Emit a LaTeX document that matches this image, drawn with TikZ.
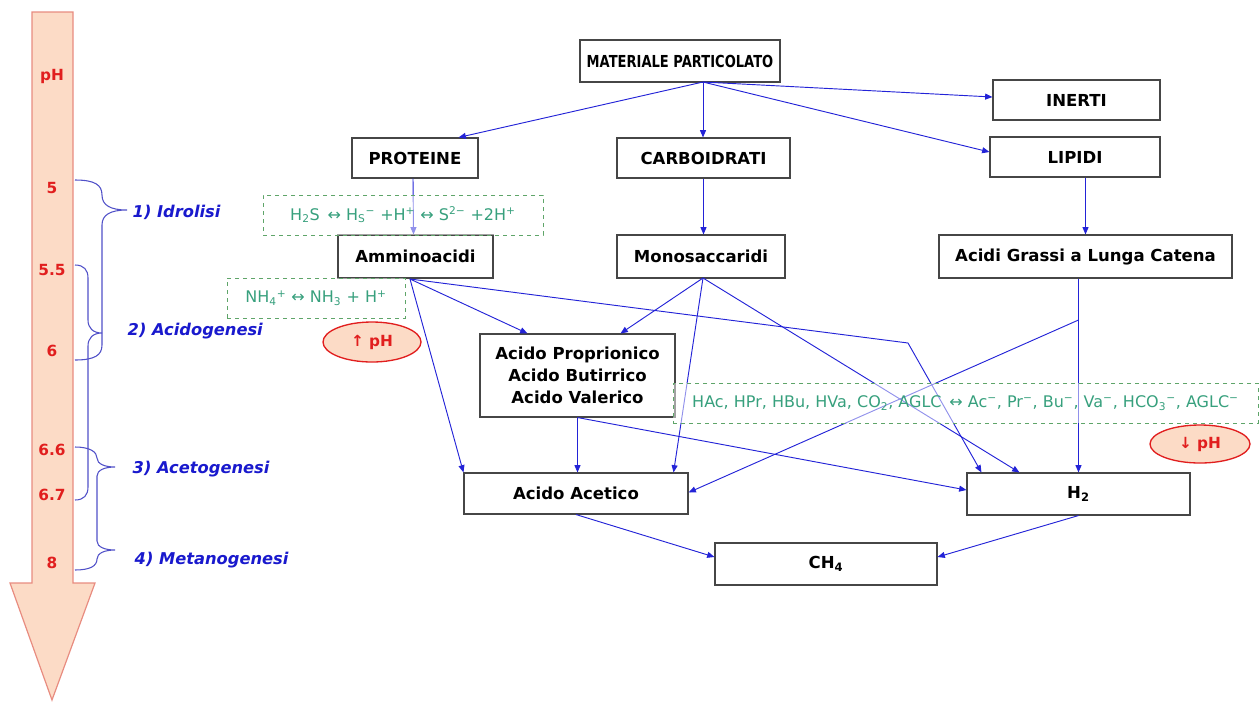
\documentclass[tikz,border=0pt]{standalone}
\usepackage{fontspec}
\setmainfont{DejaVu Sans}
\usetikzlibrary{arrows.meta,shapes.geometric,calc}

\definecolor{arrowblue}{RGB}{35,35,215}
\definecolor{bracecol}{RGB}{80,80,200}
\definecolor{labelblue}{RGB}{25,25,205}
\definecolor{phred}{RGB}{225,30,30}
\definecolor{peach}{RGB}{252,219,198}
\definecolor{peachedge}{RGB}{232,140,128}
\definecolor{greentext}{RGB}{55,160,125}
\definecolor{greendash}{RGB}{95,165,105}
\definecolor{boxedge}{RGB}{70,70,70}

\tikzset{
  box/.style 2 args={draw=boxedge, line width=0.8pt, fill=white, rectangle,
    minimum width=#1*0.75pt, minimum height=#2*0.75pt, inner sep=0pt,
    font=\fontsize{12.4}{14}\selectfont\bfseries, align=center},
  eqbox/.style 2 args={draw=greendash, dashed, line width=0.7pt,
    fill=white, fill opacity=0.5, text opacity=1, rectangle,
    minimum width=#1*0.75pt, minimum height=#2*0.75pt, inner sep=0pt,
    text=greentext, font=\fontsize{12}{14}\selectfont},
  phtag/.style 2 args={ellipse, draw=phred, line width=1pt, fill=peach,
    minimum width=#1*0.75pt, minimum height=#2*0.75pt, inner sep=0pt,
    text=phred, font=\fontsize{11.5}{13}\selectfont\bfseries},
  flow/.style={arrowblue, line width=0.7pt,
    -{Triangle[length=5.5pt,width=4.5pt]}},
  scale value/.style={text=phred, font=\fontsize{11.5}{13}\selectfont\bfseries},
  phase/.style={text=labelblue, anchor=west,
    font=\fontsize{12.2}{14}\selectfont\bfseries\itshape},
  brace line/.style={draw=bracecol, line width=0.8pt}
}

\begin{document}
\begin{tikzpicture}[x=0.75pt, y=-0.75pt]
\useasboundingbox (0,0) rectangle (1260,701);

% ---------- pH scale arrow ----------
\draw[peachedge, fill=peach, line width=0.9pt]
  (32,12) -- (73,12) -- (73,583) -- (95,583) -- (52,700) -- (10,583) -- (32,583) -- cycle;
\node[scale value] (phlab) at (52,76) {pH};
\node[scale value] (v50) at (52,188) {5};
\node[scale value] (v55) at (52,270) {5.5};
\node[scale value] (v60) at (52,351) {6};
\node[scale value] (v66) at (52,450) {6.6};
\node[scale value] (v67) at (52,495) {6.7};
\node[scale value] (v80) at (52,563) {8};

% ---------- braces for the four phases ----------
\draw[brace line] (75,180) .. controls (95,180) and (102,185) .. (102,195)
  .. controls (102,205) and (110,210) .. (127,210)
  .. controls (110,210) and (102,215) .. (102,225)
  -- (102,345) .. controls (102,355) and (95,360) .. (75,360);
\draw[brace line] (75,265) .. controls (84,265) and (88,270) .. (88,278)
  -- (88,320) .. controls (88,328) and (93,333) .. (102,333)
  .. controls (93,333) and (88,338) .. (88,346)
  -- (88,487) .. controls (88,495) and (84,500) .. (75,500);
\draw[brace line] (75,447) .. controls (90,447) and (97,452) .. (97,458)
  .. controls (97,464) and (105,467) .. (115,467)
  .. controls (105,467) and (97,470) .. (97,476)
  -- (97,541) .. controls (97,547) and (105,550) .. (115,550)
  .. controls (105,550) and (97,553) .. (97,559)
  .. controls (97,566) and (90,570) .. (75,570);

\node[phase] (ph1) at (128,212) {1) Idrolisi};
\node[phase] (ph2) at (123,331) {2) Acidogenesi};
\node[phase] (ph3) at (128,469) {3) Acetogenesi};
\node[phase] (ph4) at (130,560) {4) Metanogenesi};

% ---------- process boxes ----------
\node[box={200}{42}] (mat) at (680,61) {\scalebox{0.79}[1]{MATERIALE PARTICOLATO}};
\node[box={167}{40}] (inerti) at (1076.5,100) {INERTI};
\node[box={170}{40}] (lipidi) at (1075,157) {LIPIDI};
\node[box={173}{40}] (carbo) at (703.5,158) {CARBOIDRATI};
\node[box={126}{40}] (prot) at (415,158) {PROTEINE};
\node[box={155}{43}] (ammino) at (415.5,256.5) {Amminoacidi};
\node[box={168}{43}] (mono) at (701,256.5) {Monosaccaridi};
\node[box={293}{43}] (agl) at (1085.5,256.5) {Acidi Grassi a Lunga Catena};
\node[box={195}{83}, font=\fontsize{12.4}{16.5}\selectfont\bfseries] (avg) at (577.5,375.5)
  {Acido Proprionico\\Acido Butirrico\\Acido Valerico};
\node[box={224}{41}] (acet) at (576,493.5) {Acido Acetico};
\node[box={223}{42}] (h2) at (1078.5,494) {H\textsubscript{2}};
\node[box={222}{42}] (ch4) at (826,564) {CH\textsubscript{4}};

% ---------- branching points ----------
\coordinate (matO) at (703,82);
\coordinate (amO) at (410,279);
\coordinate (monoO) at (703,278);
\coordinate (bend) at (908,343);
\coordinate (split) at (1078.5,320);

% ---------- connectors ----------
\draw[flow] (matO) -- ($(prot.north east)+(-20,0)$);
\draw[flow] (matO) -- (matO |- carbo.north);
\draw[flow] (matO) -- ($(inerti.west)+(0,-3)$);
\draw[flow] (matO) -- ($(lipidi.west)+(0,-5)$);
\draw[flow] ($(prot.south)+(-2,0)$) -- ($(ammino.north)+(-2,0)$);
\draw[flow] (carbo.south) -- (carbo.south |- mono.north);
\draw[flow] (agl.north |- lipidi.south) -- (agl.north);

\draw[flow] (amO) -- (acet.north west);
\draw[flow] (amO) -- ($(avg.north)+(-50,0)$);
\draw[flow] (amO) -- (bend) -- ($(h2.north west)+(15,0)$);

\draw[flow] (monoO) -- ($(avg.north)+(43,0)$);
\draw[flow] (monoO) -- ($(acet.north east)+(-15,0)$);
\draw[flow] (monoO) -- ($(h2.north west)+(53,0)$);

\draw[flow] (avg.south) -- (avg.south |- acet.north);
\draw[flow] (avg.south) -- ($(h2.west)+(0,-4)$);

\draw[flow] (h2.north |- agl.south) -- (h2.north);
\draw[flow] (split) -- ($(acet.east)+(0,-1)$);

\draw[flow] (acet.south) -- ($(ch4.west)+(0,-7)$);
\draw[flow] (h2.south) -- ($(ch4.east)+(0,-7)$);

% ---------- equilibria (dashed) ----------
\node[eqbox={280}{40}] (eqs) at (403,215)
  {H\textsubscript{2}S\, ↔ H\textsubscript{S}\textsuperscript{−} +H\textsuperscript{+} ↔ S\textsuperscript{2−} +2H\textsuperscript{+}};
\node[eqbox={178}{40}] (eqn) at (316,298)
  {NH\textsubscript{4}\textsuperscript{+} ↔ NH\textsubscript{3} + H\textsuperscript{+}};
\node[eqbox={585}{40}] (eqa) at (965.5,403)
  {HAc, HPr, HBu, HVa, CO\textsubscript{2}, AGLC\, ↔ Ac\textsuperscript{−}, Pr\textsuperscript{−}, Bu\textsuperscript{−}, Va\textsuperscript{−}, HCO\textsubscript{3}\textsuperscript{−}, AGLC\textsuperscript{−}};

% ---------- pH tendency tags ----------
\node[phtag={98}{40}] (phup) at (372,342) {↑ pH};
\node[phtag={100}{38}] (phdown) at (1200,444) {↓ pH};

\end{tikzpicture}
\end{document}
